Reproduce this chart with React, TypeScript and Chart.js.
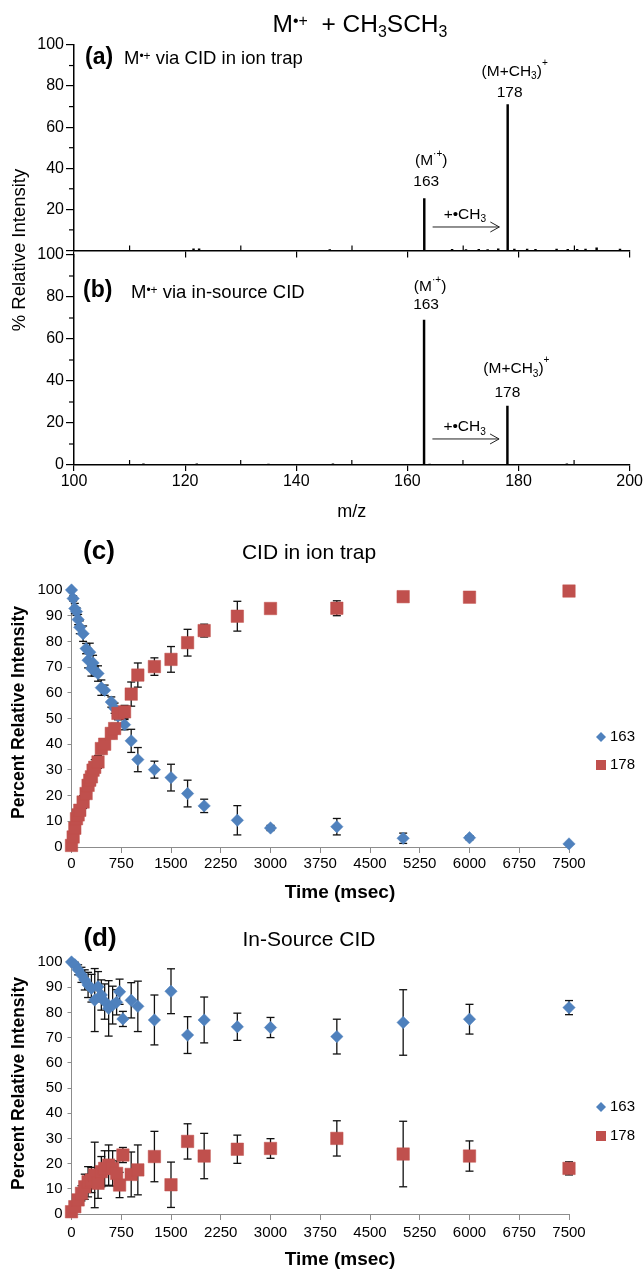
import React, { useEffect, useRef } from 'react';
import { Chart, registerables } from 'chart.js';

Chart.register(...registerables);

const FONT = "'Liberation Sans', Arial, Helvetica, sans-serif";
Chart.defaults.font.family = FONT;
Chart.defaults.color = '#000';

const BLUE = '#4F81BD';
const RED = '#C0504D';
const AXIS_GRAY = '#8c8c8c';

// ---------- Panel (a): M•+ via CID in ion trap ----------
const mzA = [121.5, 122.5, 146, 163, 168, 170.5, 172.8, 174.4, 176.3, 178, 179.2, 181.5, 183, 186.8, 188.8, 190.5, 192, 194, 198.2];
const intA = [0.8, 0.8, 0.4, 25.2, 0.5, 0.4, 0.5, 0.4, 0.8, 71, 0.6, 0.6, 0.5, 0.6, 0.5, 0.5, 0.6, 1.3, 0.6];

// ---------- Panel (b): M•+ via in-source CID ----------
const mzB = [112.5, 122.1, 135, 146.6, 163, 164, 178, 188.7];
const intB = [0.6, 0.5, 0.4, 0.5, 69, 0.4, 28, 0.6];

const mzTicks = [100, 120, 140, 160, 180, 200];
const intensityTicks = [0, 20, 40, 60, 80, 100];

// ---------- Panel (c): CID in ion trap ----------
const timesC = [0, 25, 50, 75, 100, 125, 175, 220, 250, 275, 300, 325, 350, 400, 450, 500, 600, 650, 700, 800, 900, 1000, 1250, 1500, 1750, 2000, 2500, 3000, 4000, 5000, 6000, 7500];
const ion163C = [100, 96.7, 92.8, 91.6, 88.5, 85.5, 83, 77.2, 72.7, 75.8, 69.5, 71.6, 68.5, 67.5, 62, 61, 56.4, 54, 51, 47.6, 41.3, 34, 30.1, 27, 20.8, 16, 10.4, 7.4, 7.9, 3.4, 3.6, 1.2];
const err163C = [0, 1, 2, 1.5, 2, 2.5, 3, 2, 3, 3.5, 3, 3, 2, 3, 3, 2, 2, 2, 3, 2, 4.5, 4.7, 3.3, 5.2, 5.2, 2.6, 5.7, 1, 3.2, 2, 0.8, 0.3];
const ion178C = [0.6, 3.9, 7.3, 11, 12.5, 14.3, 17.5, 20.8, 24, 26, 27.3, 29.9, 31, 33.1, 38.3, 40, 44.2, 46.1, 52, 52.6, 59.5, 66.9, 70.2, 73, 79.5, 84.2, 89.8, 92.8, 92.9, 97.4, 97.2, 99.6];
const err178C = [0, 1, 1.5, 2, 2, 2, 2.5, 2, 3, 3, 3, 3, 3, 2.5, 2, 2, 2, 2, 2.5, 2.5, 4.7, 4.7, 3.4, 5, 5.2, 2.5, 5.8, 0.6, 2.9, 0.8, 0.8, 0.5];

// ---------- Panel (d): In-Source CID ----------
const timesD = [0, 50, 100, 150, 200, 250, 300, 350, 400, 450, 500, 560, 620, 680, 725, 775, 900, 1000, 1250, 1500, 1750, 2000, 2500, 3000, 4000, 5000, 6000, 7500];
const ion163D = [100, 98.9, 96.9, 94.9, 92.9, 90.9, 89.6, 84.9, 90.2, 86.9, 84.3, 81.6, 82.9, 84, 88.2, 77.4, 84.8, 82.4, 77, 88.4, 71, 77, 74.3, 74, 70.4, 76, 77.3, 81.9];
const err163D = [0.5, 1, 2, 3, 4, 5, 5.5, 12.5, 6, 6, 7, 11, 7.5, 5, 5, 3, 7, 10, 9.9, 8.9, 7.3, 9.1, 5.4, 4, 6.9, 13, 5.9, 2.8];
const ion178D = [0.9, 2.9, 5.6, 8.2, 10.8, 12.8, 13.5, 15.5, 12.2, 16.8, 18.1, 19.4, 18.1, 16.1, 11.5, 23.4, 15.7, 17.5, 22.8, 11.6, 28.8, 23, 25.7, 26, 30, 23.8, 23, 18.1];
const err178D = [0.5, 1, 2, 3, 5, 6, 5, 13, 6, 6, 7, 8, 7, 5, 5, 3, 8.9, 9.9, 10, 9, 7, 9, 5.6, 3.9, 7, 13, 6, 2.6];

const seriesLabels = ['163', '178'];

// ---------- helpers ----------
type Seg = { t: string; s?: 'sup' | 'sub'; dy?: number };

function rich(
  ctx: CanvasRenderingContext2D,
  segs: Seg[],
  x: number,
  y: number,
  size: number,
  align: 'left' | 'center' | 'right' = 'left',
  weight = 'normal'
) {
  const fontOf = (sg: Seg) => `${weight} ${sg.s ? Math.round(size * 6.5) / 10 : size}px ${FONT}`;
  const ws = segs.map((sg) => {
    ctx.font = fontOf(sg);
    return ctx.measureText(sg.t).width;
  });
  const total = ws.reduce((a, b) => a + b, 0);
  let cx = align === 'left' ? x : align === 'center' ? x - total / 2 : x - total;
  ctx.textAlign = 'left';
  ctx.textBaseline = 'middle';
  ctx.fillStyle = '#000';
  segs.forEach((sg, i) => {
    ctx.font = fontOf(sg);
    const dy = sg.dy !== undefined ? sg.dy * size : sg.s === 'sup' ? -0.3 * size : sg.s === 'sub' ? 0.32 * size : 0;
    ctx.fillText(sg.t, cx, y + dy);
    cx += ws[i];
  });
}

function line(ctx: CanvasRenderingContext2D, x1: number, y1: number, x2: number, y2: number) {
  ctx.beginPath();
  ctx.moveTo(x1, y1);
  ctx.lineTo(x2, y2);
  ctx.stroke();
}

function drawSpectrumDecor(chart: any, panel: 'a' | 'b') {
  const ctx: CanvasRenderingContext2D = chart.ctx;
  const xs = chart.scales.x;
  const ys = chart.scales.y;
  const { left, bottom } = chart.chartArea;
  const mz = panel === 'a' ? mzA : mzB;
  const inten = panel === 'a' ? intA : intB;
  ctx.save();
  // minor ticks
  ctx.strokeStyle = '#000';
  ctx.lineWidth = 1.2;
  for (const v of [10, 30, 50, 70, 90]) {
    const y = ys.getPixelForValue(v);
    line(ctx, left - 5, y, left, y);
  }
  for (const m of [110, 130, 150, 170, 190]) {
    const x = xs.getPixelForValue(m);
    line(ctx, x, bottom, x, bottom - 5);
  }
  const x163 = xs.getPixelForValue(163);
  const x178 = xs.getPixelForValue(178);
  const t163 = ys.getPixelForValue(inten[mz.indexOf(163)]);
  const t178 = ys.getPixelForValue(inten[mz.indexOf(178)]);
  const labelSize = 15.5;
  if (panel === 'a') {
    rich(ctx, [{ t: 'M' }, { t: '•+', s: 'sup', dy: -0.14 }, { t: '  + CH' }, { t: '3', s: 'sub' }, { t: 'SCH' }, { t: '3', s: 'sub' }], 360, 25, 24.5, 'center');
    rich(ctx, [{ t: '(a)' }], 85, 58, 23, 'left', 'bold');
    rich(ctx, [{ t: 'M' }, { t: '•+', s: 'sup', dy: -0.14 }, { t: ' via CID in ion trap' }], 124, 59, 18.5, 'left');
    rich(ctx, [{ t: '(M' }, { t: '·+', s: 'sup', dy: -0.42 }, { t: ')' }], x163 + 7, t163 - 38, labelSize, 'center');
    rich(ctx, [{ t: '163' }], x163 + 2, t163 - 17, labelSize, 'center');
    rich(ctx, [{ t: '(M+CH' }, { t: '3', s: 'sub' }, { t: ')' }, { t: '+', s: 'sup', dy: -0.55 }], x178 + 7, t178 - 33, labelSize, 'center');
    rich(ctx, [{ t: '178' }], x178 + 2, t178 - 12, labelSize, 'center');
  } else {
    rich(ctx, [{ t: '(b)' }], 83, 141, 23, 'left', 'bold');
    rich(ctx, [{ t: 'M' }, { t: '•+', s: 'sup', dy: -0.14 }, { t: ' via in-source CID' }], 131, 143, 18.5, 'left');
    rich(ctx, [{ t: '(M' }, { t: '·+', s: 'sup', dy: -0.42 }, { t: ')' }], x163 + 6, t163 - 33, labelSize, 'center');
    rich(ctx, [{ t: '163' }], x163 + 2, t163 - 15, labelSize, 'center');
    rich(ctx, [{ t: '(M+CH' }, { t: '3', s: 'sub' }, { t: ')' }, { t: '+', s: 'sup', dy: -0.55 }], x178 + 9, t178 - 37, labelSize, 'center');
    rich(ctx, [{ t: '178' }], x178, t178 - 13, labelSize, 'center');
    // m/z axis title
    rich(ctx, [{ t: 'm/z' }], (chart.chartArea.left + chart.chartArea.right) / 2, 362, 18, 'center');
    // shared y-axis title
    ctx.save();
    ctx.translate(20, 100);
    ctx.rotate(-Math.PI / 2);
    rich(ctx, [{ t: '% Relative Intensity' }], 0, 0, 18.5, 'center');
    ctx.restore();
  }
  // arrow +•CH3
  const ay = ys.getPixelForValue(panel === 'a' ? 11.4 : 12.4);
  const ax1 = xs.getPixelForValue(164.5);
  const ax2 = xs.getPixelForValue(176.5);
  ctx.strokeStyle = '#222';
  ctx.lineWidth = 1;
  line(ctx, ax1, ay, ax2, ay);
  line(ctx, ax2, ay, ax2 - 9, ay - 5);
  line(ctx, ax2, ay, ax2 - 9, ay + 5);
  const ty = ys.getPixelForValue(panel === 'a' ? 17.6 : 18.1);
  rich(ctx, [{ t: '+•CH' }, { t: '3', s: 'sub' }], xs.getPixelForValue(170.3), ty, labelSize, 'center');
  ctx.restore();
}

function spectrumConfig(panel: 'a' | 'b'): any {
  const mz = panel === 'a' ? mzA : mzB;
  const inten = panel === 'a' ? intA : intB;
  return {
    type: 'bar',
    data: {
      datasets: [
        {
          data: mz.map((x, i) => ({ x, y: inten[i] })),
          backgroundColor: '#000',
          borderWidth: 0,
          barThickness: 1.8,
        },
      ],
    },
    options: {
      animation: false,
      responsive: false,
      devicePixelRatio: 1,
      layout: { padding: { left: 0, top: panel === 'a' ? 45 : 105, right: 14, bottom: 0 } },
      plugins: { legend: { display: false }, tooltip: { enabled: false } },
      scales: {
        x: {
          type: 'linear',
          min: mzTicks[0],
          max: mzTicks[mzTicks.length - 1],
          offset: false,
          afterBuildTicks: (s: any) => {
            s.ticks = mzTicks.map((v) => ({ value: v }));
          },
          ticks: {
            display: panel === 'b',
            font: { family: FONT, size: 16 },
            color: '#000',
            padding: 1,
            maxRotation: 0,
            autoSkip: false,
            callback: (v: any) => String(v),
          },
          grid: { drawOnChartArea: false, offset: false, tickLength: panel === 'a' ? 7 : 6, color: '#000', lineWidth: 1.2 },
          border: { color: '#000', width: 1.5 },
          afterFit: (s: any) => {
            s.height = panel === 'a' ? 7 : 70;
          },
        },
        y: {
          min: 0,
          max: 100,
          afterBuildTicks: (s: any) => {
            s.ticks = intensityTicks.map((v) => ({ value: v }));
          },
          ticks: {
            font: { family: FONT, size: 16 },
            color: '#000',
            padding: 2,
            callback: (v: any) => (panel === 'a' && v === 0 ? '' : String(v)),
          },
          grid: { drawOnChartArea: false, tickLength: 8, color: '#000', lineWidth: 1.2 },
          border: { color: '#000', width: 1.5 },
          afterFit: (s: any) => {
            s.width = 74;
          },
        },
      },
    },
    plugins: [
      {
        id: 'spectrumDecor' + panel,
        afterDraw: (chart: any) => drawSpectrumDecor(chart, panel),
      },
    ],
  };
}

function kineticsConfig(
  panel: 'c' | 'd',
  times: number[],
  v163: number[],
  e163: number[],
  v178: number[],
  e178: number[]
): any {
  const isC = panel === 'c';
  const padTop = isC ? 60 : 62;
  const xHeight = isC ? 63 : 60;
  return {
    type: 'scatter',
    data: {
      datasets: [
        {
          label: seriesLabels[0],
          data: times.map((t, i) => ({ x: t, y: v163[i] })),
          errors: e163,
          pointStyle: 'rectRot',
          pointRadius: 6.2,
          backgroundColor: BLUE,
          borderColor: BLUE,
          borderWidth: 0.5,
          clip: false,
          order: 1,
        },
        {
          label: seriesLabels[1],
          data: times.map((t, i) => ({ x: t, y: v178[i] })),
          errors: e178,
          pointStyle: 'rect',
          pointRadius: 8.8,
          backgroundColor: RED,
          borderColor: RED,
          borderWidth: 0.5,
          clip: false,
          order: 0,
        },
      ],
    },
    options: {
      animation: false,
      responsive: false,
      devicePixelRatio: 1,
      layout: { padding: { left: 0, top: padTop, right: 75, bottom: 0 } },
      plugins: { legend: { display: false }, tooltip: { enabled: false } },
      scales: {
        x: {
          type: 'linear',
          min: 0,
          max: 7500,
          ticks: {
            stepSize: 750,
            font: { family: FONT, size: 15 },
            color: '#000',
            padding: isC ? 2 : 4,
            maxRotation: 0,
            autoSkip: false,
            callback: (v: any) => String(v),
          },
          grid: { drawOnChartArea: false, tickLength: 6, color: AXIS_GRAY, lineWidth: 1 },
          border: { color: AXIS_GRAY, width: 1 },
          afterFit: (s: any) => {
            s.height = xHeight;
          },
        },
        y: {
          min: 0,
          max: 100,
          ticks: { stepSize: 10, font: { family: FONT, size: 15 }, color: '#000', padding: 5, callback: (v: any) => String(v) },
          grid: { drawOnChartArea: false, tickLength: 4, color: AXIS_GRAY, lineWidth: 1 },
          border: { color: AXIS_GRAY, width: 1 },
          afterFit: (s: any) => {
            s.width = 71.5;
          },
        },
      },
    },
    plugins: [
      {
        id: 'errorBars' + panel,
        beforeDatasetsDraw: (chart: any) => {
          const ctx: CanvasRenderingContext2D = chart.ctx;
          const ys = chart.scales.y;
          ctx.save();
          ctx.strokeStyle = '#111';
          ctx.lineWidth = 1.3;
          chart.data.datasets.forEach((ds: any, di: number) => {
            const meta = chart.getDatasetMeta(di);
            ds.data.forEach((p: any, j: number) => {
              const e = ds.errors[j];
              if (!e || e < 0.4) return;
              const x = meta.data[j].x;
              const y1 = ys.getPixelForValue(p.y + e);
              const y2 = ys.getPixelForValue(p.y - e);
              line(ctx, x, y1, x, y2);
              line(ctx, x - 4, y1, x + 4, y1);
              line(ctx, x - 4, y2, x + 4, y2);
            });
          });
          ctx.restore();
        },
      },
      {
        id: 'decor' + panel,
        afterDraw: (chart: any) => {
          const ctx: CanvasRenderingContext2D = chart.ctx;
          const { right } = chart.chartArea;
          ctx.save();
          rich(ctx, [{ t: isC ? '(c)' : '(d)' }], isC ? 99 : 100, isC ? 22 : 39, 26, 'center', 'bold');
          rich(ctx, [{ t: isC ? 'CID in ion trap' : 'In-Source CID' }], 309, isC ? 23 : 40, 21, 'center');
          rich(ctx, [{ t: 'Time (msec)' }], 340, isC ? 363 : 360, 19, 'center', 'bold');
          ctx.save();
          ctx.translate(19, isC ? 182.5 : 183.5);
          ctx.rotate(-Math.PI / 2);
          rich(ctx, [{ t: 'Percent Relative Intensity' }], 0, 0, 17.5, 'center', 'bold');
          ctx.restore();
          // legend
          const lx = right + 32;
          const ly1 = 207;
          const ly2 = isC ? 235 : 236;
          ctx.fillStyle = BLUE;
          ctx.beginPath();
          ctx.moveTo(lx, ly1 - 5);
          ctx.lineTo(lx + 5, ly1);
          ctx.lineTo(lx, ly1 + 5);
          ctx.lineTo(lx - 5, ly1);
          ctx.closePath();
          ctx.fill();
          ctx.fillStyle = RED;
          ctx.fillRect(lx - 5, ly2 - 5, 10, 10);
          rich(ctx, [{ t: chart.data.datasets[0].label }], lx + 9, ly1, 15, 'left');
          rich(ctx, [{ t: chart.data.datasets[1].label }], lx + 9, ly2, 15, 'left');
          ctx.restore();
        },
      },
    ],
  };
}

function ChartCanvas({ top, height, make }: { top: number; height: number; make: () => any }) {
  const ref = useRef<HTMLCanvasElement>(null);
  useEffect(() => {
    const chart = new Chart(ref.current as HTMLCanvasElement, make());
    return () => chart.destroy();
  }, []);
  return (
    <canvas
      ref={ref}
      width={644}
      height={height}
      style={{ position: 'absolute', left: 0, top, width: 644, height, display: 'block' }}
    />
  );
}

export default function App() {
  return (
    <div style={{ position: 'absolute', left: 0, top: 0, width: 644, height: 1274, background: '#fff', overflow: 'hidden' }}>
      <ChartCanvas top={0} height={262} make={() => spectrumConfig('a')} />
      <ChartCanvas top={150} height={385} make={() => spectrumConfig('b')} />
      <ChartCanvas top={530} height={380} make={() => kineticsConfig('c', timesC, ion163C, err163C, ion178C, err178C)} />
      <ChartCanvas top={900} height={374} make={() => kineticsConfig('d', timesD, ion163D, err163D, ion178D, err178D)} />
    </div>
  );
}
